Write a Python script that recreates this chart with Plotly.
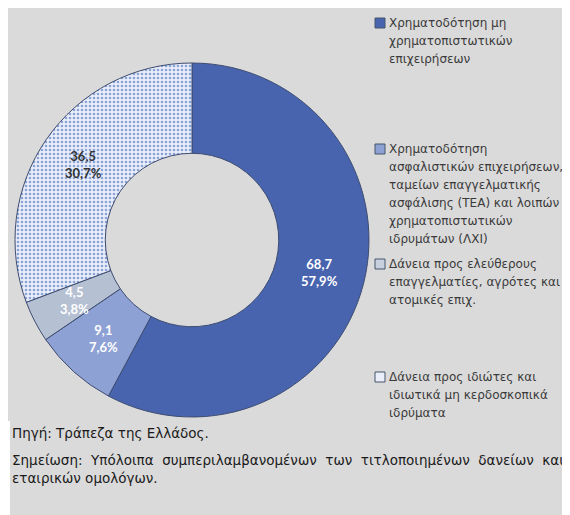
import math
import plotly.graph_objects as go

# ---- data ----
categories = [
    "Χρηματοδότηση μη χρηματοπιστωτικών επιχειρήσεων",
    "Χρηματοδότηση ασφαλιστικών επιχειρήσεων, ταμείων επαγγελματικής ασφάλισης (ΤΕΑ) και λοιπών χρηματοπιστωτικών ιδρυμάτων (ΛΧΙ)",
    "Δάνεια προς ελεύθερους επαγγελματίες, αγρότες και ατομικές επιχ.",
    "Δάνεια προς ιδιώτες και ιδιωτικά μη κερδοσκοπικά ιδρύματα",
]
values = [68.7, 9.1, 4.5, 36.5]
value_labels = ["68,7", "9,1", "4,5", "36,5"]
pct_labels = ["57,9%", "7,6%", "3,8%", "30,7%"]
legend_lines = [
    ["Χρηματοδότηση μη", "χρηματοπιστωτικών", "επιχειρήσεων"],
    ["Χρηματοδότηση", "ασφαλιστικών επιχειρήσεων,", "ταμείων επαγγελματικής",
     "ασφάλισης (ΤΕΑ) και λοιπών", "χρηματοπιστωτικών", "ιδρυμάτων (ΛΧΙ)"],
    ["Δάνεια προς ελεύθερους", "επαγγελματίες, αγρότες και", "ατομικές επιχ."],
    ["Δάνεια προς ιδιώτες και", "ιδιωτικά μη κερδοσκοπικά", "ιδρύματα"],
]
source_text = "Πηγή: Τράπεζα της Ελλάδος."
note_lines = ["Σημείωση: Υπόλοιπα συμπεριλαμβανομένων των τιτλοποιημένων δανείων και",
              "εταιρικών ομολόγων."]

# ---- style ----
W, H = 562, 507   # page body margin (8px) brings this to the window edge
BG = "#dadada"
slice_colors = ["#4964ae", "#8ea1d5", "#b6c0d3", "#e9eef8"]
text_colors = ["white", "white", "white", "#333333"]
legend_fill = ["#4964ae", "#8ea1d5", "#c8cfdf", "#e9eef8"]
HOLE = 0.49

def px(x):
    return x / W

def py(y):
    return 1 - y / H

cx, cy, R = 184, 232, 177

fig = go.Figure()
fig.add_trace(go.Pie(
    labels=categories,
    values=values,
    textposition="none",
    hole=HOLE,
    sort=False,
    direction="clockwise",
    marker=dict(
        colors=slice_colors,
        line=dict(color="#3d4c70", width=1),
        pattern=dict(shape=["", "", "", "."], fgcolor="#8aa2d8",
                     bgcolor="#e9eef8", size=4, solidity=0.35),
    ),
    domain=dict(x=[px(cx - R), px(cx + R)], y=[py(cy + R), py(cy - R)]),
    showlegend=False,
    hoverinfo="label+value+percent",
))

shapes = [
    dict(type="rect", xref="paper", yref="paper", x0=0, x1=px(2), y0=0, y1=py(413),
         fillcolor="white", line=dict(width=0), layer="below"),
]
annotations = []

# slice labels placed at mid-angle / mid-radius of each slice
total = sum(values)
r_lab = R * (1 + HOLE) / 2
cum = 0.0
for i, v in enumerate(values):
    theta = 2 * math.pi * (cum + v / 2) / total
    cum += v
    lx = cx + r_lab * math.sin(theta)
    ly = cy - r_lab * math.cos(theta)
    annotations.append(dict(xref="paper", yref="paper", x=px(lx), y=py(ly),
                            text=f"{value_labels[i]}<br>{pct_labels[i]}", showarrow=False,
                            xanchor="center", yanchor="middle", align="center",
                            font=dict(family="Lato, sans-serif", size=13, weight="bold",
                                      color=text_colors[i])))

# custom legend
item_tops = [15, 141, 256, 369]
line_h = 18
for i, lines in enumerate(legend_lines):
    y0 = item_tops[i]
    shapes.append(dict(type="rect", xref="paper", yref="paper",
                       x0=px(367), x1=px(377), y0=py(y0 + 5), y1=py(y0 - 5),
                       fillcolor=legend_fill[i], line=dict(color="#44546a", width=1)))
    for j, ln in enumerate(lines):
        annotations.append(dict(xref="paper", yref="paper", x=px(379), y=py(y0 + j * line_h),
                                text=ln, showarrow=False, xanchor="left", yanchor="middle",
                                font=dict(family="DejaVu Sans", size=12, color="#3a3a3a")))

# footer
annotations.append(dict(xref="paper", yref="paper", x=px(2), y=py(425), text=source_text,
                        showarrow=False, xanchor="left", yanchor="middle",
                        font=dict(family="DejaVu Sans", size=13.5, color="#1a1a1a")))
note_y = [452, 470]
for j, ln in enumerate(note_lines):
    txt = ln.replace(" ", "\u00a0\u00a0") if j == 0 else ln
    annotations.append(dict(xref="paper", yref="paper", x=px(2), y=py(note_y[j]), text=txt,
                            showarrow=False, xanchor="left", yanchor="middle",
                            font=dict(family="DejaVu Sans", size=13.5, color="#1a1a1a")))

fig.update_layout(
    width=W, height=H,
    margin=dict(l=0, r=0, t=0, b=0),
    paper_bgcolor=BG,
    shapes=shapes,
    annotations=annotations,
)

fig.write_html("out.html")
